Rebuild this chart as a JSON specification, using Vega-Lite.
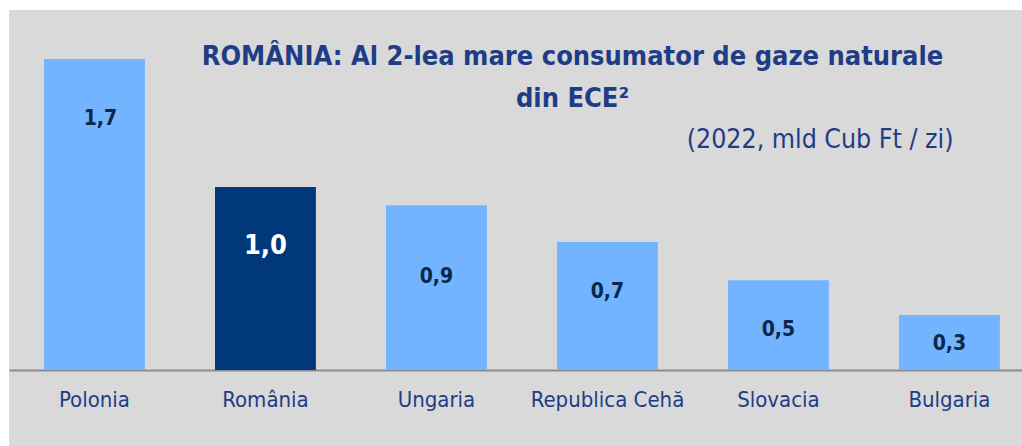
{
  "$schema": "https://vega.github.io/schema/vega-lite/v6.json",
  "width": 1013,
  "height": 436,
  "autosize": "none",
  "padding": {"left": 9, "top": 10, "right": 0, "bottom": 0},
  "background": "white",
  "title": {
    "text": ["ROMÂNIA: Al 2-lea mare consumator de gaze naturale", "din ECE²"],
    "anchor": "middle",
    "dx": 57,
    "offset": -124,
    "baseline": "alphabetic",
    "lineHeight": 42,
    "font": "DejaVu Sans Condensed",
    "fontSize": 27,
    "fontWeight": "bold",
    "color": "#1f3d86"
  },
  "data": {
    "values": [
      {"country": "Polonia", "value": 1.7},
      {"country": "România", "value": 1.0},
      {"country": "Ungaria", "value": 0.9},
      {"country": "Republica Cehă", "value": 0.7},
      {"country": "Slovacia", "value": 0.49},
      {"country": "Bulgaria", "value": 0.3}
    ]
  },
  "encoding": {
    "x": {
      "field": "country",
      "type": "nominal",
      "sort": null,
      "scale": {"paddingInner": 0.41, "paddingOuter": 0.167, "align": 0.613},
      "axis": {
        "title": null,
        "labelAngle": 0,
        "ticks": false,
        "domainColor": "#8c8c8c",
        "domainWidth": 2,
        "offset": -76,
        "labelFont": "DejaVu Sans Condensed",
        "labelFontSize": 22,
        "labelColor": "#1f3d86",
        "labelBaseline": "alphabetic",
        "labelPadding": 36
      }
    },
    "y": {
      "field": "value",
      "type": "quantitative",
      "scale": {"domain": [-0.4154, 1.9678], "nice": false, "zero": false},
      "axis": {
        "labels": false,
        "ticks": false,
        "domain": false,
        "grid": false,
        "title": "(2022, mld Cub Ft / zi)",
        "titleAngle": 0,
        "titleAlign": "right",
        "titleBaseline": "alphabetic",
        "titleX": 944,
        "titleY": 137,
        "titleFont": "DejaVu Sans Condensed",
        "titleFontSize": 26.5,
        "titleFontWeight": "normal",
        "titleColor": "#1f3d86"
      }
    }
  },
  "layer": [
    {
      "mark": {"type": "bar"},
      "encoding": {
        "y2": {"datum": 0},
        "color": {
          "condition": {"test": "datum.country === 'România'", "value": "#00387a"},
          "value": "#72b4ff"
        }
      }
    },
    {
      "transform": [{"filter": "datum.country === 'Polonia'"}],
      "mark": {"type": "text", "baseline": "middle", "dy": 60, "dx": 6, "font": "DejaVu Sans Condensed", "fontWeight": "bold", "fontSize": 21, "color": "#0b2748"},
      "encoding": {"text": {"field": "value", "type": "quantitative", "format": ".1f"}}
    },
    {
      "transform": [{"filter": "datum.country === 'România'"}],
      "mark": {"type": "text", "baseline": "middle", "dy": 59, "font": "DejaVu Sans Condensed", "fontWeight": "bold", "fontSize": 27, "color": "white"},
      "encoding": {"text": {"field": "value", "type": "quantitative", "format": ".1f"}}
    },
    {
      "transform": [{"filter": "datum.country === 'Ungaria'"}],
      "mark": {"type": "text", "baseline": "middle", "dy": 72, "font": "DejaVu Sans Condensed", "fontWeight": "bold", "fontSize": 21, "color": "#0b2748"},
      "encoding": {"text": {"field": "value", "type": "quantitative", "format": ".1f"}}
    },
    {
      "transform": [{"filter": "datum.country === 'Republica Cehă' || datum.country === 'Slovacia'"}],
      "mark": {"type": "text", "baseline": "middle", "dy": 50, "font": "DejaVu Sans Condensed", "fontWeight": "bold", "fontSize": 21, "color": "#0b2748"},
      "encoding": {"text": {"field": "value", "type": "quantitative", "format": ".1f"}}
    },
    {
      "transform": [{"filter": "datum.country === 'Bulgaria'"}],
      "mark": {"type": "text", "baseline": "middle", "dy": 29, "font": "DejaVu Sans Condensed", "fontWeight": "bold", "fontSize": 21, "color": "#0b2748"},
      "encoding": {"text": {"field": "value", "type": "quantitative", "format": ".1f"}}
    }
  ],
  "config": {
    "view": {"fill": "#d9d9d9", "stroke": null},
    "locale": {"number": {"decimal": ",", "thousands": ".", "grouping": [3], "currency": ["", ""]}}
  }
}
